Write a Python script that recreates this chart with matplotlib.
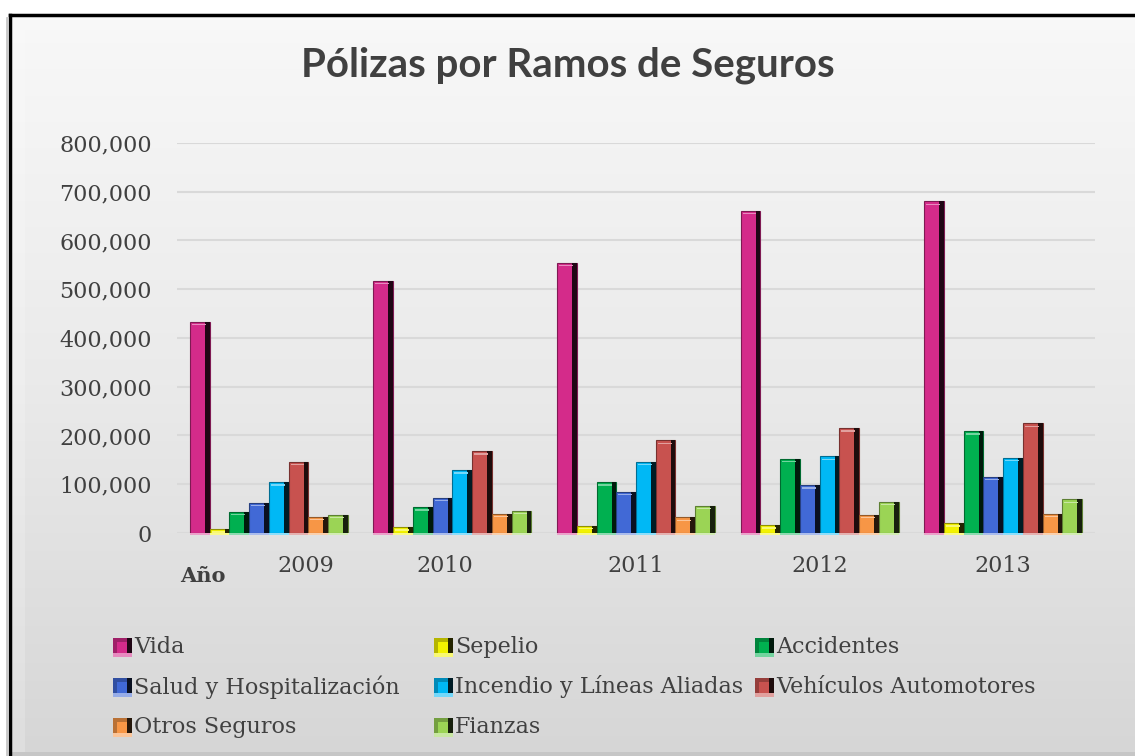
import numpy as np
import matplotlib
matplotlib.use("Agg")
import matplotlib.pyplot as plt
from matplotlib.colors import LinearSegmentedColormap, to_rgb
from matplotlib.patches import Rectangle, Polygon
from matplotlib.ticker import FuncFormatter

years = ["2009", "2010", "2011", "2012", "2013"]
series = [
    "Vida", "Sepelio", "Accidentes",
    "Salud y Hospitalización", "Incendio y Líneas Aliadas", "Vehículos Automotores",
    "Otros Seguros", "Fianzas",
]
vida = [433000, 517000, 554000, 661000, 680000]
sepelio = [8000, 12000, 15000, 16000, 20000]
accidentes = [44000, 53000, 104000, 152000, 209000]
salud = [62000, 72000, 85000, 98000, 115000]
incendio = [104000, 129000, 146000, 157000, 154000]
vehiculos = [146000, 168000, 190000, 215000, 225000]
otros = [33000, 39000, 32000, 37000, 40000]
fianzas = [37000, 45000, 56000, 64000, 69000]
values = [vida, sepelio, accidentes, salud, incendio, vehiculos, otros, fianzas]
colors = ["#D42B8A", "#F2F200", "#00B050", "#4169D6", "#00B8F5", "#C8524F", "#F79646", "#9BD455"]

SERIF = ["DejaVu Serif"]
TEXT = "#404040"


def shade(c, f):
    r, g, b = to_rgb(c)
    return (r * f, g * f, b * f)


def tint(c, f):
    r, g, b = to_rgb(c)
    return (r + (1 - r) * f, g + (1 - g) * f, b + (1 - b) * f)


fig = plt.figure(figsize=(11.35, 7.56), dpi=100)

# background frame with gradient (runs off the right and bottom edges)
bg = fig.add_axes([0, 0, 1, 1], zorder=0)
bg.set_xlim(0, 1135)
bg.set_ylim(756, 0)
bg.axis("off")
grad = np.linspace(0, 1, 256).reshape(-1, 1)
cmap = LinearSegmentedColormap.from_list("bg", ["#F8F8F8", "#EAEAEA", "#D6D6D6"])
bg.imshow(grad, extent=(10, 1135, 756, 15), aspect="auto", cmap=cmap, zorder=1)
# subtle bevel: light band top/left, thin darker line at the bottom
bg.add_patch(Polygon([(11, 16), (1135, 16), (1135, 30), (25, 30), (25, 756), (11, 756)],
                     closed=True, fc="white", alpha=0.2, lw=0, zorder=2))
bg.add_patch(Rectangle((11, 752), 1124, 4, fc="#C6C6C6", lw=0, zorder=2))
bg.plot([10, 10], [15, 756], color="black", lw=2.5, zorder=3)
bg.plot([10, 1135], [15, 15], color="black", lw=2.5, zorder=3)
bg.plot([7, 7], [18, 756], color="#C8C8C8", lw=2, zorder=3)

fig.text(0.5, 0.914, "Pólizas por Ramos de Seguros", ha="center", va="center",
         fontsize=29, fontweight="bold", family="Lato", color=TEXT)

ax = fig.add_axes([177 / 1135, 1 - 533 / 756, 918 / 1135, 390 / 756], zorder=1)
ax.set_facecolor("none")

x = np.arange(len(years))
w = 0.86 / len(series)
for i, (vals, c) in enumerate(zip(values, colors)):
    vals = np.array(vals)
    pos = x + (i - (len(series) - 1) / 2) * w
    ax.bar(pos, vals, w, color=c, edgecolor=shade(c, 0.6), linewidth=0.8, zorder=3)
    ax.bar(pos + w * 0.38, vals, w * 0.24, color=shade(c, 0.15), linewidth=0, zorder=4)
    ax.bar(pos - w * 0.05, 2500, w * 0.7, bottom=vals - 7000, color=tint(c, 0.45),
           linewidth=0, zorder=4)
    ax.bar(pos, -5000, w, color=tint(c, 0.55), linewidth=0, zorder=2, clip_on=False)

ax.set_xlim(-0.5, len(years) - 0.5)
ax.set_ylim(0, 800000)
ax.set_yticks(np.arange(0, 800001, 100000))
ax.yaxis.set_major_formatter(FuncFormatter(lambda v, p: f"{v:,.0f}"))
ax.set_xticks([0.2, 0.96, 2, 3, 4])
ax.set_xticklabels(years)
ax.tick_params(axis="y", length=0, pad=18, labelsize=16, labelcolor=TEXT)
ax.tick_params(axis="x", length=0, pad=16, labelsize=16, labelcolor=TEXT)
for lab in ax.get_xticklabels() + ax.get_yticklabels():
    lab.set_family(SERIF)
ax.grid(axis="y", color="#D9D9D9", linewidth=1.5, zorder=0)
ax.set_axisbelow(True)
for s in ax.spines.values():
    s.set_visible(False)

fig.text(180 / 1135, 1 - 576 / 756, "Año", ha="left", va="center", fontsize=15,
         fontweight="bold", family=SERIF, color=TEXT)

# legend laid out as in the original (3 columns)
for i, (name, c) in enumerate(zip(series, colors)):
    col, row = i % 3, i // 3
    lx = 113 + col * 321
    ly = 647 + row * 40
    bg.add_patch(Rectangle((lx, ly - 9), 19, 19, fc=shade(c, 0.75), lw=0, zorder=3))
    bg.add_patch(Rectangle((lx + 14, ly - 9), 5, 19, fc=shade(c, 0.15), lw=0, zorder=4))
    bg.add_patch(Rectangle((lx, ly + 6), 19, 4, fc=tint(c, 0.45), lw=0, zorder=4))
    bg.add_patch(Rectangle((lx + 4, ly - 5), 10, 11, fc=c, lw=0, zorder=5))
    bg.text(lx + 21, ly, name, ha="left", va="center", fontsize=16, family=SERIF,
            color=TEXT, zorder=5)

fig.savefig("out.png", dpi=100)
